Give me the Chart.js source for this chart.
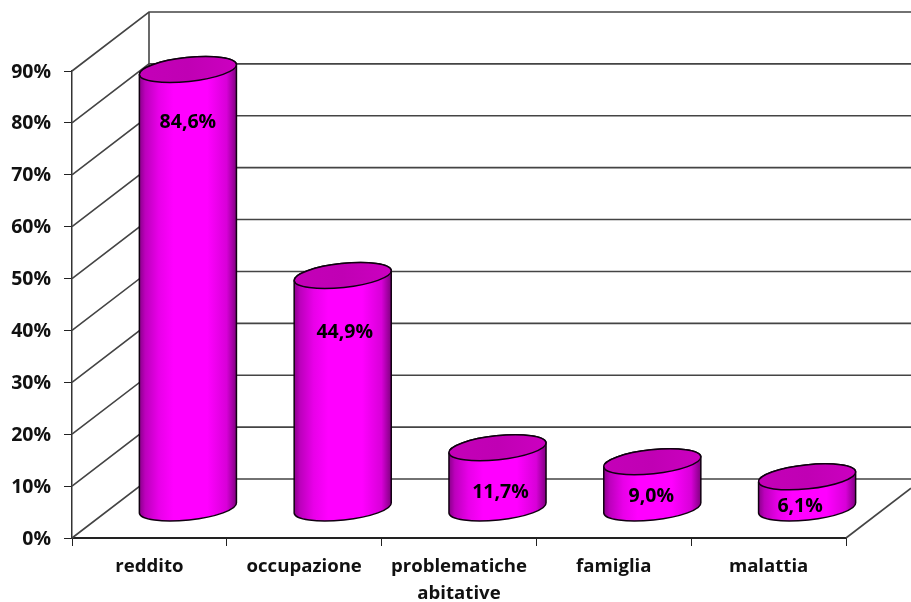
<!DOCTYPE html>
<html>
<head>
<meta charset="utf-8">
<script src="https://cdn.jsdelivr.net/npm/chart.js@4/dist/chart.umd.min.js"></script>
<style>
html,body{margin:0;padding:0;background:#fff;}
#wrap{width:911px;height:602px;}
canvas{display:block;}
</style>
</head>
<body>
<div id="wrap"><canvas id="c" width="911" height="602"></canvas></div>
<script>
const categories = ["reddito", "occupazione", ["problematiche", "abitative"], "famiglia", "malattia"];
const seriesValues = [84.6, 44.9, 11.7, 9.0, 6.1];
const valueLabels = ["84,6%", "44,9%", "11,7%", "9,0%", "6,1%"];

const DEPTH_X = 77, DEPTH_Y = -59;
const TILT = -6 * Math.PI / 180, RY = 12;
const labelNudge = [[0, 53], [2, 57], [3, 45], [-1, 35], [-7, 30]];
const FAMILY = "'Open Sans', 'Noto Sans', sans-serif";
const FONT = "bold 19.5px " + FAMILY;

const scene3d = {
  id: 'scene3d',
  beforeDatasetsDraw(chart) {
    const ctx = chart.ctx, y = chart.scales.y, a = chart.chartArea, W = chart.width;
    ctx.save();
    ctx.strokeStyle = '#444';
    ctx.lineWidth = 1.6;
    y.ticks.forEach(t => {
      const py = y.getPixelForValue(t.value);
      ctx.beginPath();
      ctx.moveTo(a.left, py);
      ctx.lineTo(a.left + DEPTH_X, py + DEPTH_Y);
      ctx.lineTo(W, py + DEPTH_Y);
      ctx.stroke();
    });
    ctx.beginPath();
    ctx.moveTo(a.left + DEPTH_X, a.top + DEPTH_Y);
    ctx.lineTo(a.left + DEPTH_X, a.bottom + DEPTH_Y);
    ctx.stroke();
    ctx.beginPath();
    ctx.moveTo(a.right, a.bottom);
    ctx.lineTo(W, a.bottom + (W - a.right) * DEPTH_Y / DEPTH_X);
    ctx.stroke();
    ctx.restore();
  },
  beforeDatasetDraw(chart, args) {
    const ctx = chart.ctx;
    const meta = chart.getDatasetMeta(args.index);
    ctx.save();
    meta.data.forEach((el, i) => {
      const p = el.getProps(['x', 'y', 'base', 'width'], true);
      const cx = p.x + DEPTH_X / 2, half = p.width / 2;
      const rx = half / Math.cos(TILT);
      const topY = p.y + DEPTH_Y / 2, botY = p.base + DEPTH_Y / 2;

      const body = ctx.createLinearGradient(cx - half, 0, cx + half, 0);
      body.addColorStop(0, '#8a008a');
      body.addColorStop(0.06, '#bc00bc');
      body.addColorStop(0.2, '#e800e8');
      body.addColorStop(0.35, '#ff00ff');
      body.addColorStop(0.7, '#ff00ff');
      body.addColorStop(0.9, '#d800d8');
      body.addColorStop(1, '#800080');
      ctx.beginPath();
      ctx.ellipse(cx, botY, rx, RY, TILT, Math.PI, 0, true);
      ctx.ellipse(cx, topY, rx, RY, TILT, 0, Math.PI, true);
      ctx.closePath();
      ctx.fillStyle = body;
      ctx.fill();
      ctx.strokeStyle = '#100010';
      ctx.lineWidth = 1.5;
      ctx.stroke();

      const cap = ctx.createLinearGradient(cx - half, 0, cx + half, 0);
      cap.addColorStop(0, '#c400b8');
      cap.addColorStop(0.5, '#c000b4');
      cap.addColorStop(1, '#cc00c0');
      ctx.beginPath();
      ctx.ellipse(cx, topY, rx, RY, TILT, 0, Math.PI * 2);
      ctx.fillStyle = cap;
      ctx.fill();
      ctx.stroke();

      ctx.fillStyle = '#000';
      ctx.font = FONT;
      ctx.textAlign = 'center';
      ctx.textBaseline = 'middle';
      ctx.fillText(valueLabels[i], cx + labelNudge[i][0], topY + labelNudge[i][1]);
    });
    ctx.restore();
    return false;
  }
};

new Chart(document.getElementById('c'), {
  type: 'bar',
  data: {
    labels: categories,
    datasets: [{
      data: seriesValues,
      backgroundColor: '#ff00ff',
      borderColor: '#000',
      barPercentage: 0.627,
      categoryPercentage: 1
    }]
  },
  options: {
    responsive: false,
    animation: false,
    layout: { padding: { top: 71, right: 65, left: 0, bottom: 0 } },
    plugins: { legend: { display: false }, tooltip: { enabled: false } },
    scales: {
      x: {
        offset: true,
        grid: { offset: true, drawOnChartArea: false, drawTicks: true, tickLength: 8, color: '#222' },
        border: { color: '#222', width: 2 },
        ticks: {
          color: '#111', padding: 7, maxRotation: 0, autoSkip: false,
          font: { family: FAMILY, weight: 'bold', size: 18.6, lineHeight: 1.45 }
        },
        afterFit(s) { s.height = 64; }
      },
      y: {
        min: 0, max: 90,
        grid: { drawOnChartArea: false, drawTicks: true, tickLength: 8, color: '#222' },
        border: { color: '#333', width: 1.5 },
        ticks: {
          stepSize: 10, color: '#111', padding: 13, labelOffset: 1,
          callback: v => v + '%',
          font: { family: FAMILY, weight: 'bold', size: 19.5 }
        },
        afterFit(s) { s.width = 72; }
      }
    }
  },
  plugins: [scene3d]
});
</script>
</body>
</html>
